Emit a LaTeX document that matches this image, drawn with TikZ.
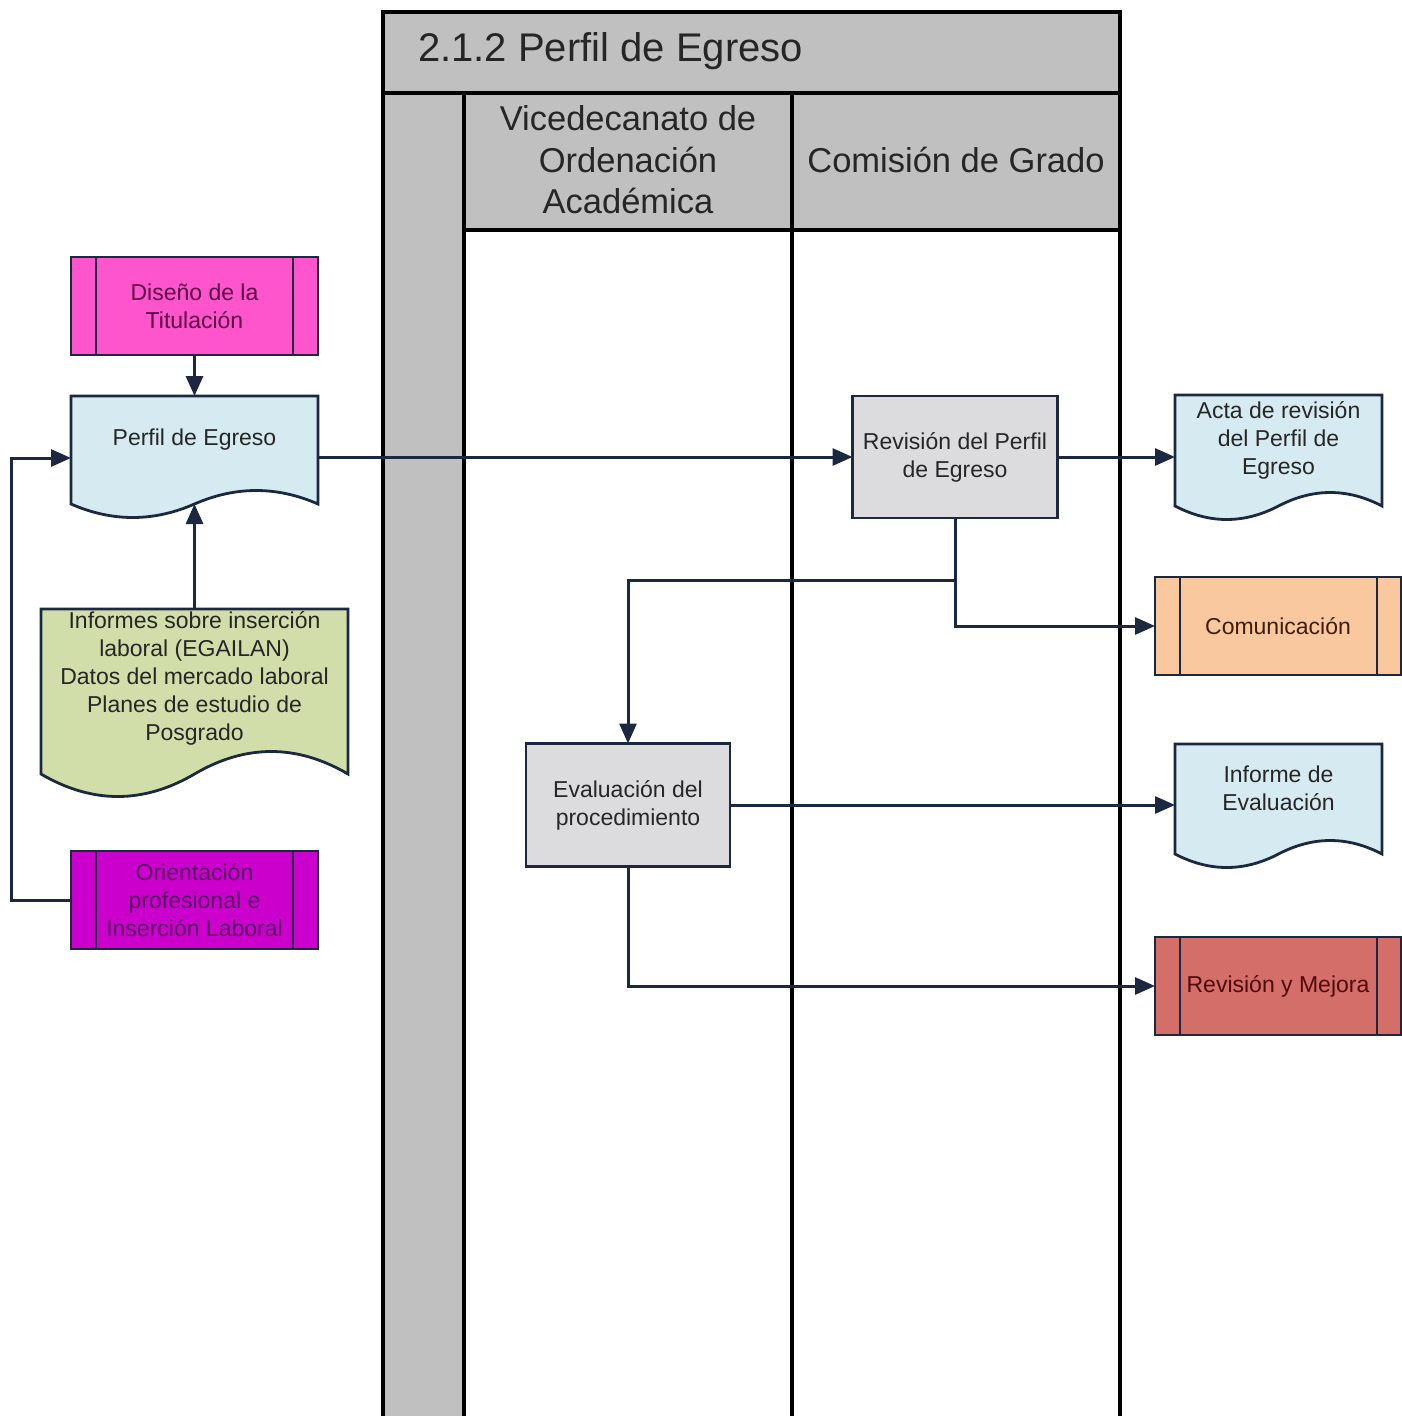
\documentclass[tikz,border=0pt]{standalone}
\usepackage{fontspec}
\setmainfont{Liberation Sans}
\usetikzlibrary{arrows.meta,calc}
\definecolor{navy}{RGB}{28,40,64}
\definecolor{poolgray}{RGB}{192,192,192}
\definecolor{procgray}{RGB}{220,220,222}
\definecolor{docblue}{RGB}{214,234,241}
\definecolor{docgreen}{RGB}{210,222,170}
\definecolor{pink}{RGB}{255,85,204}
\definecolor{purp}{RGB}{204,0,204}
\definecolor{peach}{RGB}{250,200,158}
\definecolor{redbox}{RGB}{212,110,104}
\definecolor{txtgray}{RGB}{38,38,38}
\newcommand\boxfont{\fontsize{23}{28}\selectfont}
\newcommand\titlefont{\fontsize{40}{46}\selectfont}
\newcommand\lanefont{\fontsize{34.5}{41.5}\selectfont}
\newcommand\docoutline[3]{%
  \draw[shapeline, fill=#2] (#1.north west) -- (#1.north east) -- (#1.south east)
    .. controls ($(#1.south east)!1/3!(#1.south)+(0pt,#3pt)$) and ($(#1.south east)!2/3!(#1.south)+(0pt,#3pt)$) .. (#1.south)
    .. controls ($(#1.south)!1/3!(#1.south west)-(0pt,#3pt)$) and ($(#1.south)!2/3!(#1.south west)-(0pt,#3pt)$) .. (#1.south west) -- cycle;}
\newcommand\sidebars[2]{%
  \draw[shapeline] ([xshift=25pt]#1.north west) -- ([xshift=25pt]#1.south west);
  \draw[shapeline] ([xshift=-#2pt]#1.north east) -- ([xshift=-#2pt]#1.south east);}
\begin{document}
\begin{tikzpicture}[x=1pt,y=-1pt,
  shapeline/.style={draw=navy, line width=2.8pt},
  arr/.style={draw=navy, line width=3pt, -{Triangle[length=20pt,width=17pt]}},
  box/.style={rectangle, draw=navy, line width=2.8pt, outer sep=0pt, inner sep=0pt, align=center, font=\boxfont, text=txtgray},
  procbox/.style={box, fill=procgray},
  predef/.style={box, minimum width=247pt, minimum height=98pt},
  docarea/.style={rectangle, inner sep=0pt, outer sep=0pt},
  doctext/.style={align=center, font=\boxfont, inner sep=0pt, text=txtgray},
  poolline/.style={draw=black, line width=3.5pt},
]
\useasboundingbox (0,0) rectangle (1402,1416);
% ---------- pool ----------
\fill[poolgray] (383,12) rectangle (1120,93);
\fill[poolgray] (383,93) rectangle (464,1416);
\fill[poolgray] (464,93) rectangle (1120,230);
\draw[poolline] (383,1416) -- (383,12) -- (1120,12) -- (1120,1416);
\draw[poolline] (383,93) -- (1120,93);
\draw[poolline] (464,93) -- (464,1416);
\draw[poolline] (792,93) -- (792,1416);
\draw[poolline] (464,230) -- (1120,230);
\node[anchor=west, inner sep=0pt, font=\titlefont, text=txtgray] (title) at (418,51) {2.1.2 Perfil de Egreso};
\node[align=center, inner sep=0pt, font=\lanefont, text=txtgray] (lane1) at (628,160) {Vicedecanato de\\Ordenación\\Académica};
\node[align=center, inner sep=0pt, font=\lanefont, text=txtgray] (lane2) at (956,160) {Comisión de Grado};
% ---------- nodes ----------
\node[predef, fill=pink, text={rgb,255:red,90;green,0;blue,70}] (dis) at (194.5,306) {Diseño de la\\Titulación};
\sidebars{dis}{25}
\node[docarea, minimum width=247pt, minimum height=108pt] (perfil) at (194.5,450) {};
\docoutline{perfil}{docblue}{18}
\node[doctext] (perfilt) at ([yshift=10pt]perfil.center) {Perfil de Egreso};
\node[docarea, minimum width=307pt, minimum height=165pt] (inf) at (194.5,691.5) {};
\docoutline{inf}{docgreen}{30}
\node[doctext] (inft) at ([yshift=13pt]inf.center) {Informes sobre inserción\\laboral (EGAILAN)\\Datos del mercado laboral\\Planes de estudio de\\Posgrado};
\node[predef, fill=purp, text={rgb,255:red,90;green,10;blue,100}] (orient) at (194.5,900) {Orientación\\profesional e\\Inserción Laboral};
\sidebars{orient}{25}
\node[procbox, minimum width=205pt, minimum height=122pt] (rev) at (955,457) {Revisión del Perfil\\de Egreso};
\node[procbox, minimum width=204pt, minimum height=123pt] (eval) at (628,805) {Evaluación del\\procedimiento};
\node[docarea, minimum width=207pt, minimum height=111pt] (acta) at (1278.5,450.5) {};
\docoutline{acta}{docblue}{18}
\node[doctext] (actat) at ([yshift=10pt]acta.center) {Acta de revisión\\del Perfil de\\Egreso};
\node[predef, minimum width=246pt, fill=peach, text={rgb,255:red,60;green,30;blue,10}] (comm) at (1278,626) {Comunicación};
\sidebars{comm}{24}
\node[docarea, minimum width=207pt, minimum height=110pt] (inf2) at (1278.5,799) {};
\docoutline{inf2}{docblue}{18}
\node[doctext] (inf2t) at ([yshift=11pt]inf2.center) {Informe de\\Evaluación};
\node[predef, minimum width=246pt, fill=redbox, text={rgb,255:red,80;green,10;blue,10}] (rm) at (1278,986) {Revisión y Mejora};
\sidebars{rm}{24}
% ---------- connectors ----------
\draw[arr] (dis.south) -- (perfil.north);
\draw[arr] (inf.north) -- (perfil.south);
\draw[arr] (orient.west) -- ++(-60,0) |- ([yshift=-8pt]perfil.west);
\draw[arr] (perfil.east |- rev.west) -- (rev.west);
\draw[arr] (rev.east) -- (acta.west |- rev.east);
\draw[arr] (rev.south) |- (comm.west);
\coordinate (br) at ([yshift=-62pt]rev.south);
\draw[arr] (br) -| (eval.north);
\draw[arr] (eval.east) -- (inf2.west |- eval.east);
\draw[arr] (eval.south) |- (rm.west);
\end{tikzpicture}
\end{document}
